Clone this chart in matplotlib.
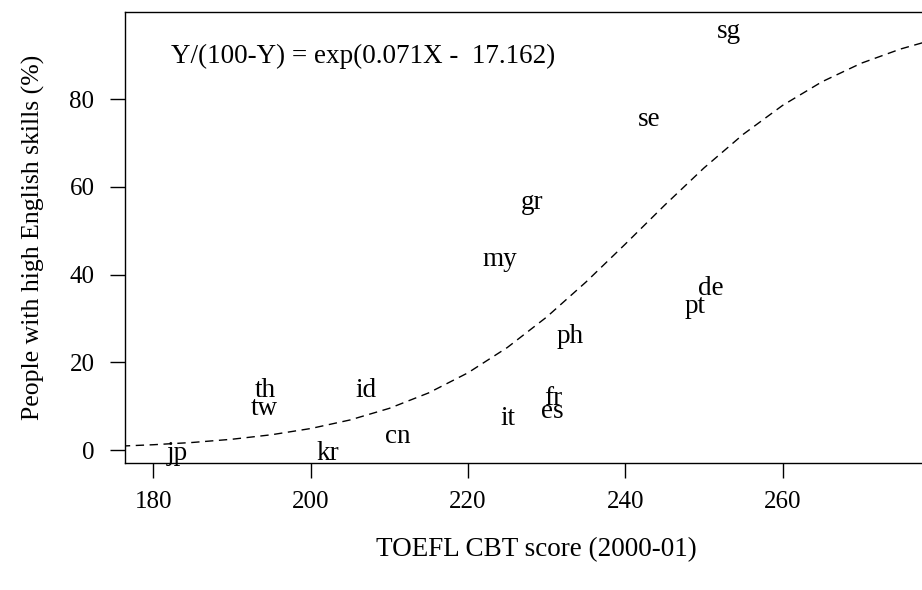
import matplotlib
matplotlib.use("Agg")
import matplotlib.pyplot as plt

# country labels and values (TOEFL CBT score, % people with high English skills)
countries = ["sg", "se", "gr", "my", "de", "pt", "ph", "th", "id", "tw",
             "fr", "es", "it", "cn", "kr", "jp"]
toefl = [253.2, 243.0, 228.2, 224.1, 250.9, 248.9, 233.0, 194.2, 207.0, 194.1,
         230.9, 230.7, 225.1, 211.1, 202.2, 183.0]
english = [95.5, 75.3, 56.4, 43.5, 36.9, 32.8, 25.8, 13.5, 13.5, 9.4,
           11.7, 8.9, 7.1, 3.0, -0.8, -0.8]

# fitted logistic curve
curve_x = [176, 180, 185, 190, 195, 200, 205, 210, 215, 220, 225, 230, 235,
           240, 245, 250, 255, 260, 265, 270, 275, 278, 281]
curve_y = [0.93, 1.23, 1.75, 2.48, 3.50, 4.92, 6.87, 9.52, 13.04, 17.62, 23.38,
           30.32, 38.30, 46.95, 55.80, 64.29, 71.97, 78.55, 83.93, 88.16, 91.40,
           92.93, 94.0]

x_ticks = [180, 200, 220, 240, 260]
y_ticks = [0, 20, 40, 60, 80]
formula = "Y/(100-Y) = exp(0.071X -  17.162)"

plt.rcParams["font.family"] = ["Liberation Serif", "DejaVu Serif"]
FS = 19.5
TFS = 18

fig = plt.figure(figsize=(9.22, 5.90), dpi=100)
W, H = 922, 590
left_px, right_px, top_px, bot_px = 125, 947, 11.7, 463.3
ax = fig.add_axes([left_px / W, 1 - bot_px / H, (right_px - left_px) / W,
                   (bot_px - top_px) / H])

ax.set_xlim(176.4, 280.9)
ax.set_ylim(-3.0, 99.9)

ax.plot(curve_x, curve_y, color="black", lw=1.0, dashes=(6, 4))

for c, xv, yv in zip(countries, toefl, english):
    ax.text(xv, yv, c, ha="center", va="center", fontsize=FS, color="black")

ax.text(182.3, 89.8, formula, ha="left", va="center", fontsize=FS)

ax.set_xticks(x_ticks)
ax.set_yticks(y_ticks)
ax.tick_params(axis="both", direction="out", length=11, width=1.0,
               labelsize=TFS, color="black")
ax.tick_params(axis="x", pad=9)
ax.tick_params(axis="y", pad=11)
for s in ax.spines.values():
    s.set_linewidth(1.0)
    s.set_color("black")

ax.set_xlabel("TOEFL CBT score (2000-01)", fontsize=FS)
ax.set_ylabel("People with high English skills (%)", fontsize=TFS + 0.5)
ax.xaxis.set_label_coords(0.5, (bot_px - 550) / (bot_px - top_px))
ax.yaxis.set_label_coords((33 - left_px) / (right_px - left_px), 0.5)
ax.xaxis.label.set_va("center")
ax.yaxis.label.set_va("center")

fig.savefig("out.png", dpi=100)
